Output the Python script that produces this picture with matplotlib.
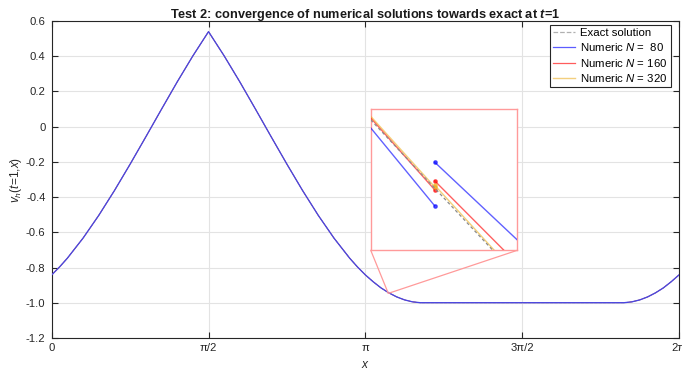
import numpy as np
import matplotlib
matplotlib.use("Agg")
import matplotlib.pyplot as plt
from matplotlib.patches import ConnectionPatch
from matplotlib.lines import Line2D

plt.rcParams['font.family'] = ['Liberation Sans', 'DejaVu Sans']
plt.rcParams['mathtext.fontset'] = 'custom'
plt.rcParams['mathtext.rm'] = 'Liberation Sans'
plt.rcParams['mathtext.it'] = 'Liberation Sans:italic'
plt.rcParams['mathtext.bf'] = 'Liberation Sans:bold:italic'

# ---------------- data ----------------
# main curve: x in units of pi, value v_h(t=1,x)
x_over_pi = [0.0, 0.025, 0.05, 0.1, 0.15, 0.2, 0.25, 0.3, 0.35, 0.4, 0.45, 0.5,
             0.55, 0.6, 0.65, 0.7, 0.75, 0.8, 0.85, 0.9, 0.95, 0.975, 1.0,
             1.025, 1.05, 1.075, 1.1, 1.125, 1.15, 1.175, 1.1817,
             1.8183, 1.825, 1.85, 1.875, 1.9, 1.925, 1.95, 1.975, 2.0]
v_exact = [-0.842, -0.797, -0.747, -0.633, -0.504, -0.363, -0.213, -0.058, 0.099, 0.254, 0.402, 0.540,
           0.402, 0.254, 0.099, -0.058, -0.213, -0.363, -0.504, -0.633, -0.747, -0.797, -0.842,
           -0.881, -0.916, -0.944, -0.967, -0.984, -0.995, -1.000, -1.000,
           -1.000, -1.000, -0.995, -0.984, -0.967, -0.944, -0.916, -0.881, -0.842]
# numerical solutions are indistinguishable from the exact one at full scale
v_N80 = v_exact
v_N160 = v_exact
v_N320 = v_exact

# zoomed region (inset)
inset_xlim = [3.368, 3.376]
inset_ylim = [-0.9479, -0.9459]
zoom_point = [3.3715, -0.947]
exact_in_x = [3.368, 3.376]
exact_in_v = [-0.94605, -0.94827]
# piecewise-linear numeric solutions: left segment, right segment
n80_left_x, n80_left_v = [3.368, 3.3715], [-0.946164, -0.947272]
n80_right_x, n80_right_v = [3.3715, 3.376], [-0.946652, -0.947753]
n160_left_x, n160_left_v = [3.368, 3.3715], [-0.946023, -0.947044]
n160_right_x, n160_right_v = [3.3715, 3.376], [-0.946917, -0.948090]
n320_left_x, n320_left_v = [3.368, 3.3715], [-0.946000, -0.947004]
n320_right_x, n320_right_v = [3.3715, 3.376], [-0.946980, -0.948256]

y_ticks = [-1.2, -1.0, -0.8, -0.6, -0.4, -0.2, 0.0, 0.2, 0.4, 0.6]
y_ticklabels = ['-1.2', '-1.0', '-0.8', '-0.6', '-0.4', '-0.2', '0', '0.2', '0.4', '0.6']
x_ticks_over_pi = [0, 0.5, 1, 1.5, 2]
x_ticklabels = ['0', 'π/2', 'π', '3π/2', '2π']

legend_labels = ['Exact solution', 'Numeric $N$ =  80', 'Numeric $N$ = 160', 'Numeric $N$ = 320']

# ---------------- styles ----------------
c_blue = '#5c5cff'
c_red = '#ff5c5c'
c_yellow = '#f3cf7e'
a_blue = (0.0, 0.0, 1.0, 0.62)
a_red = (1.0, 0.0, 0.0, 0.62)
a_yellow = (0.93, 0.69, 0.13, 0.6)
c_exact = '#8c8c8c'
c_zoom = '#ff9a9a'
axc = '#262626'

fig = plt.figure(figsize=(6.82, 3.76), dpi=100)
ax = fig.add_axes([0.0758, 0.1013, 0.9198, 0.8426])

x = np.array(x_over_pi) * np.pi
ax.plot(x, v_exact, '--', color=c_exact, lw=0.6, zorder=2)
ax.plot(x, v_N320, '-', color=c_yellow, lw=0.5, zorder=3)
ax.plot(x, v_N160, '-', color=c_red, lw=0.5, zorder=4)
ax.plot(x, v_N80, '-', color='#4646e4', lw=0.95, zorder=5)

ax.set_xlim(0, 2 * np.pi)
ax.set_ylim(-1.2, 0.6)
ax.set_xticks(np.array(x_ticks_over_pi) * np.pi)
ax.set_xticklabels(x_ticklabels)
ax.set_yticks(y_ticks)
ax.set_yticklabels(y_ticklabels)
ax.tick_params(direction='in', length=4, width=0.8, color=axc, labelcolor=axc,
               labelsize=8.1, top=True, right=True)
ax.tick_params(axis='y', pad=4.5)
ax.tick_params(axis='x', pad=4)
ax.grid(True, color='#e3e3e3', lw=0.8, zorder=0)
ax.set_axisbelow(True)
for s in ax.spines.values():
    s.set_color(axc)
    s.set_linewidth(0.8)

ax.set_title('Test 2: convergence of numerical solutions towards exact at $\\mathbf{t}$=1',
             fontsize=9.2, fontweight='bold', color='#1a1a1a', pad=2)
ax.set_xlabel('$x$', fontsize=8.6, color=axc, labelpad=4)
ax.set_ylabel('$v_h$($t$=1,$x$)', fontsize=8.6, color=axc, labelpad=1)

lh = [Line2D([], [], ls='--', color='#b0b0b0', lw=0.9),
      Line2D([], [], color=c_blue, lw=0.9),
      Line2D([], [], color=c_red, lw=0.9),
      Line2D([], [], color=c_yellow, lw=1.0)]
leg = ax.legend(lh, legend_labels, loc='upper right', fontsize=8.2, frameon=True,
                fancybox=False, edgecolor='#262626', framealpha=1,
                borderpad=0.25, labelspacing=0.3, handlelength=2.0, handletextpad=0.45,
                borderaxespad=0.0, bbox_to_anchor=(0.9865, 0.988))
leg.get_frame().set_linewidth(0.8)

# ---------------- inset ----------------
ax_in = fig.add_axes([0.5436, 0.3343, 0.2149, 0.375])
ms = 2.4
ax_in.plot(n160_left_x, n160_left_v, '-', color=a_red, lw=1.0, marker='o', ms=ms, markevery=[1], zorder=3)
ax_in.plot(n160_right_x, n160_right_v, '-', color=a_red, lw=1.0, marker='o', ms=ms, markevery=[0], zorder=3)
ax_in.plot(n320_left_x, n320_left_v, '-', color=a_yellow, lw=1.0, marker='o', ms=ms, markevery=[1], zorder=4)
ax_in.plot(n320_right_x, n320_right_v, '-', color=a_yellow, lw=1.0, marker='o', ms=ms, markevery=[0], zorder=4)
ax_in.plot(exact_in_x, exact_in_v, '--', color=c_exact, lw=0.9, zorder=5, dashes=(2.5, 2))
ax_in.plot(n80_left_x, n80_left_v, '-', color=a_blue, lw=1.0, marker='o', ms=ms, markevery=[1], zorder=6)
ax_in.plot(n80_right_x, n80_right_v, '-', color=a_blue, lw=1.0, marker='o', ms=ms, markevery=[0], zorder=6)
ax_in.set_xlim(inset_xlim)
ax_in.set_ylim(inset_ylim)
ax_in.set_xticks([])
ax_in.set_yticks([])
for s in ax_in.spines.values():
    s.set_color(c_zoom)
    s.set_linewidth(1.0)

for corner in [(0, 0), (1, 0)]:
    cp = ConnectionPatch(xyA=corner, coordsA=ax_in.transAxes,
                         xyB=tuple(zoom_point), coordsB=ax.transData,
                         color=c_zoom, lw=0.9)
    fig.add_artist(cp)

fig.savefig('out.png', dpi=100)
